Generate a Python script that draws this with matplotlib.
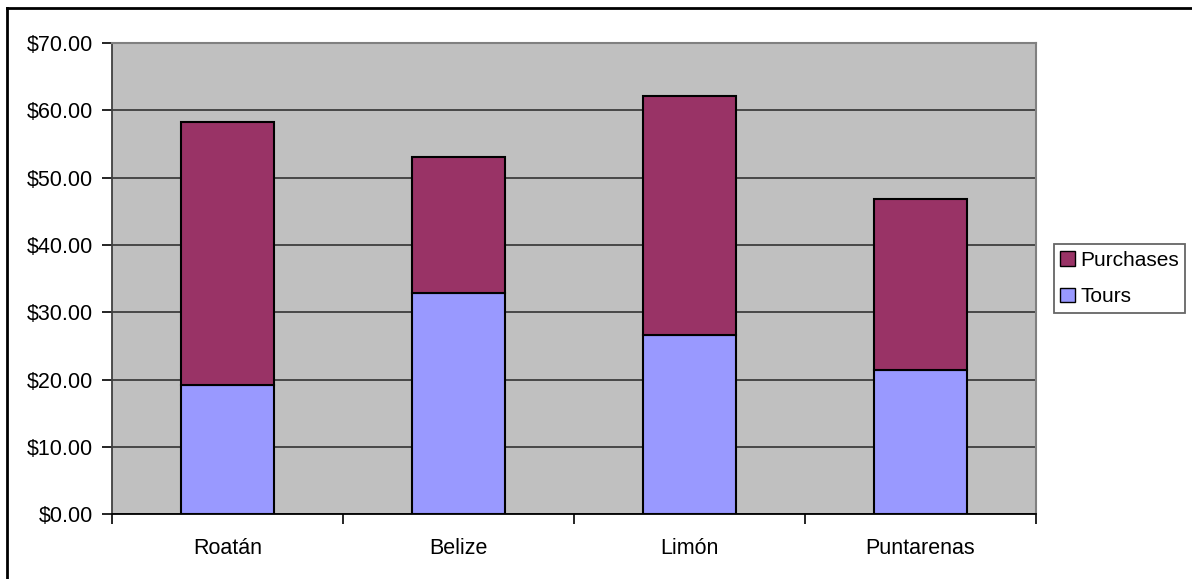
import matplotlib.pyplot as plt
from matplotlib.lines import Line2D
from matplotlib.patches import Patch
import numpy as np

plt.rcParams['font.family'] = ['Liberation Sans', 'DejaVu Sans']

ports = ['Roatán', 'Belize', 'Limón', 'Puntarenas']
tours = [19.25, 32.9, 26.6, 21.5]
purchases = [39.05, 20.1, 35.5, 25.4]
yticks = [0, 10, 20, 30, 40, 50, 60, 70]

tour_color = '#9999FF'
purchase_color = '#993366'

fig = plt.figure(figsize=(11.92, 5.79), dpi=100)
ax = fig.add_axes([112 / 1192, 64.7 / 579, 924 / 1192, 471.3 / 579])
ax.set_facecolor('#C0C0C0')

x = np.arange(len(ports))
ax.bar(x, tours, width=0.4, color=tour_color, edgecolor='black', linewidth=1.5, zorder=3)
ax.bar(x, purchases, width=0.4, bottom=tours, color=purchase_color,
       edgecolor='black', linewidth=1.5, zorder=3)

ax.set_xlim(-0.5, len(ports) - 0.5)
ax.set_ylim(0, 70)
ax.set_yticks(yticks)
ax.set_yticklabels(['${:.2f}'.format(v) for v in yticks])
ax.yaxis.grid(True, color='#333333', linewidth=1.2, zorder=1)
ax.set_axisbelow(True)

# category labels in the middle, ticks on the boundaries
ax.set_xticks(np.arange(-0.5, len(ports)), minor=False)
ax.set_xticklabels([''] * (len(ports) + 1))
ax.set_xticks(x, minor=True)
ax.set_xticklabels(ports, minor=True)
ax.tick_params(axis='x', which='minor', length=0, pad=17, labelsize=15.5)
ax.tick_params(axis='x', which='major', length=7, width=1.2, direction='out')
ax.tick_params(axis='y', length=7, width=1.2, direction='out', pad=7, labelsize=15.5)

for side in ['top', 'right']:
    ax.spines[side].set_color('#808080')
    ax.spines[side].set_linewidth(1.5)
ax.spines['left'].set_color('#404040')
ax.spines['left'].set_linewidth(1.3)
ax.spines['bottom'].set_color('black')
ax.spines['bottom'].set_linewidth(1.3)

handles = [Patch(facecolor=purchase_color, edgecolor='black', label='Purchases'),
           Patch(facecolor=tour_color, edgecolor='black', label='Tours')]
leg = fig.legend(handles=handles, loc='center left',
                 bbox_to_anchor=(1054 / 1192, 1 - 278.5 / 579),
                 fontsize=15, frameon=True, fancybox=False,
                 handlelength=0.7, handleheight=0.7, handletextpad=0.25,
                 borderpad=0.3, labelspacing=0.85, borderaxespad=0)
leg.get_frame().set_edgecolor('#404040')
leg.get_frame().set_linewidth(1.3)

# outer chart border (left and top edges)
fig.add_artist(Line2D([7.5 / 1192, 7.5 / 1192], [0, 1 - 7.5 / 579],
                      color='black', linewidth=2, transform=fig.transFigure))
fig.add_artist(Line2D([7.5 / 1192, 1], [1 - 7.5 / 579, 1 - 7.5 / 579],
                      color='black', linewidth=2, transform=fig.transFigure))

fig.savefig('out.png', dpi=100)
